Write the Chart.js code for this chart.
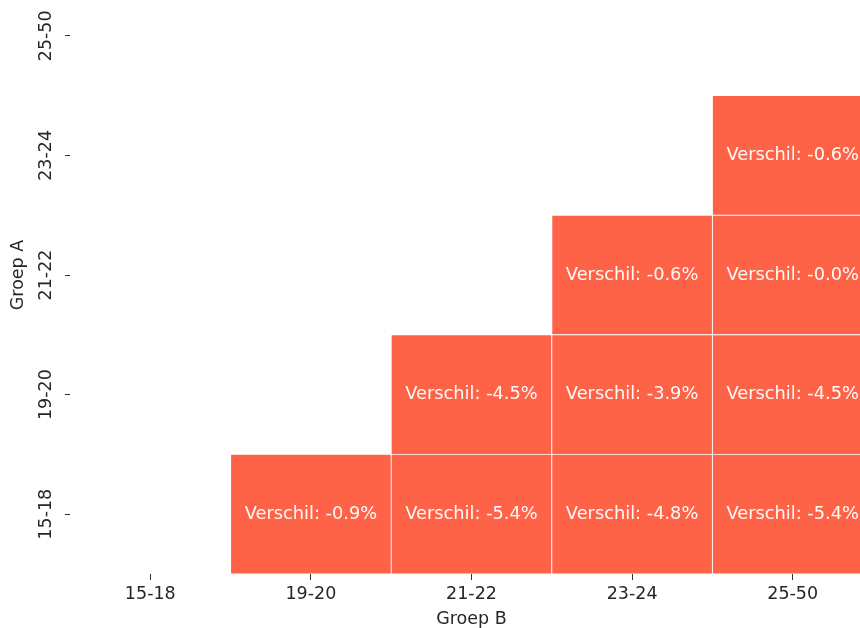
<!DOCTYPE html>
<html>
<head>
<meta charset="utf-8">
<script src="https://cdn.jsdelivr.net/npm/chart.js@4/dist/chart.umd.min.js"></script>
<style>
  html, body { margin: 0; padding: 0; background: #fff; overflow: hidden; }
  body { width: 860px; height: 628px; position: relative; }
  /* the figure is cropped on top and right, like the reference */
  #wrap { position: absolute; left: 0; top: -24px; width: 873px; height: 652px; }
</style>
</head>
<body>
<div id="wrap"><canvas id="heat"></canvas></div>
<script>
// categories
const groepB = ['15-18', '19-20', '21-22', '23-24', '25-50'];
const groepA = ['15-18', '19-20', '21-22', '23-24', '25-50'];

// difference (%) per Groep A row, over Groep B columns
const rij1518 = [null, -0.9, -5.4, -4.8, -5.4];
const rij1920 = [null, null, -4.5, -3.9, -4.5];
const rij2122 = [null, null, null, -0.6, -0.03];
const rij2324 = [null, null, null, null, -0.6];
const rij2550 = [null, null, null, null, null];

const rows = [rij1518, rij1920, rij2122, rij2324, rij2550];

Chart.defaults.font.family = '"DejaVu Sans"';
Chart.defaults.font.size = 17.5;
Chart.defaults.color = '#262626';

const datasets = rows.map((row, r) => ({
    label: groepA[r],
    data: row.map(v => v === null ? null : [r - 0.5, r + 0.5]),
    backgroundColor: '#ff6347',
    borderColor: '#ffffff',
    borderWidth: 0.8,
    borderSkipped: false,
    barPercentage: 1,
    categoryPercentage: 1,
    grouped: false
}));

// cell texts + rotated y tick labels
const cellLabels = {
    id: 'cellLabels',
    afterDatasetsDraw(chart) {
        const ctx = chart.ctx;
        ctx.save();
        ctx.font = '17.8px "DejaVu Sans"';
        ctx.fillStyle = '#fffaf8';
        ctx.textAlign = 'center';
        ctx.textBaseline = 'middle';
        rows.forEach((row, r) => {
            chart.getDatasetMeta(r).data.forEach((bar, c) => {
                if (row[c] === null) return;
                ctx.fillText('Verschil: ' + row[c].toFixed(1) + '%', bar.x, (bar.y + bar.base) / 2);
            });
        });
        const ys = chart.scales.y;
        ctx.font = '17.5px "DejaVu Sans"';
        ctx.fillStyle = '#262626';
        groepA.forEach((lab, r) => {
            ctx.save();
            ctx.translate(46, ys.getPixelForValue(r));
            ctx.rotate(-Math.PI / 2);
            ctx.fillText(lab, 0, 0);
            ctx.restore();
        });
        ctx.restore();
    }
};

new Chart(document.getElementById('heat'), {
    type: 'bar',
    data: { labels: groepB, datasets: datasets },
    options: {
        responsive: true,
        maintainAspectRatio: false,
        animation: false,
        layout: { padding: 0 },
        plugins: { legend: { display: false }, tooltip: { enabled: false } },
        scales: {
            x: {
                grid: { offset: false, drawOnChartArea: false, drawTicks: true, tickLength: 6, tickColor: '#333' },
                border: { display: false },
                ticks: { maxRotation: 0, autoSkip: false, padding: 4 },
                title: { display: true, text: 'Groep B', font: { lineHeight: 1 }, padding: { top: 0, bottom: 0 } },
                afterFit: s => { s.height = 54; }
            },
            y: {
                min: -0.5,
                max: 4.5,
                afterBuildTicks: s => { s.ticks = groepA.map((_, i) => ({ value: i })); },
                grid: { drawOnChartArea: false, drawTicks: true, tickLength: 5, tickColor: '#333' },
                border: { display: false },
                ticks: { display: false },
                title: { display: true, text: 'Groep A', font: { lineHeight: 1 }, padding: { top: 10, bottom: 0 } },
                afterFit: s => { s.width = 70; }
            }
        }
    },
    plugins: [cellLabels]
});
</script>
</body>
</html>
